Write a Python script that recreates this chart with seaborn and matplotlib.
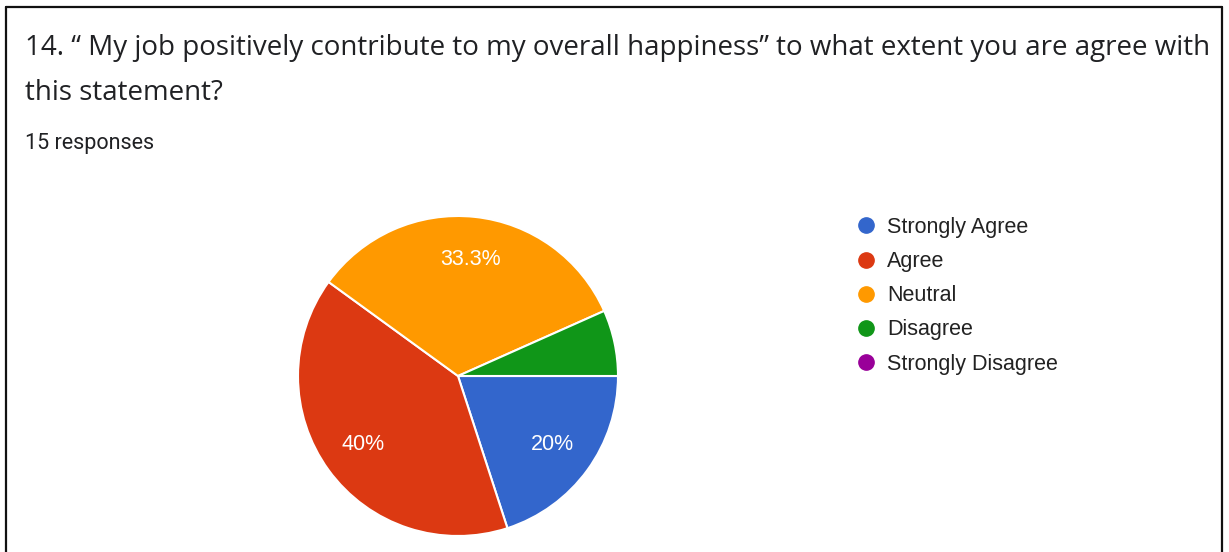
import matplotlib
matplotlib.use("Agg")
import matplotlib.pyplot as plt
from matplotlib.lines import Line2D
import seaborn as sns

# Survey responses (15 in total)
categories = ["Strongly Agree", "Agree", "Neutral", "Disagree", "Strongly Disagree"]
counts = [3, 6, 5, 1, 0]
colors = ["#3366cc", "#dc3912", "#ff9900", "#109618", "#990099"]

title_lines = [
    "14. \u201c My job positively contribute to my overall happiness\u201d to what extent you are agree with",
    "this statement?",
]
subtitle = "15 responses"

sns.set_theme(style="white")
palette = sns.color_palette(colors)

W, H = 1229, 552
fig = plt.figure(figsize=(W / 100, H / 100), dpi=100)
fig.patch.set_facecolor("white")


def fx(px):
    return px / W


def fy(py):
    return 1 - py / H


# outer frame (left, top, right edges)
frame_kw = dict(color="#111111", linewidth=1.6, transform=fig.transFigure)
fig.add_artist(Line2D([fx(6), fx(6)], [fy(7), 0], **frame_kw))
fig.add_artist(Line2D([fx(6), fx(1222)], [fy(7), fy(7)], **frame_kw))
fig.add_artist(Line2D([fx(1222), fx(1222)], [fy(7), 0], **frame_kw))

# heading
fig.text(fx(25), fy(55), title_lines[0], family="Open Sans", fontsize=20,
         color="#202124", va="baseline", ha="left")
fig.text(fx(25), fy(100), title_lines[1], family="Open Sans", fontsize=20,
         color="#202124", va="baseline", ha="left")
fig.text(fx(25), fy(149), subtitle, family="Roboto", fontsize=15.5,
         color="#202124", va="baseline", ha="left")

# pie
cx, cy, r = 458, 376, 160
ax = fig.add_axes([fx(cx - r), fy(cy + r), 2 * r / W, 2 * r / H])
pie_vals = [c for c in counts if c > 0]
pie_cols = [palette[i] for i, c in enumerate(counts) if c > 0]


def pct_label(p):
    return f"{p:.1f}%".replace(".0%", "%") if p >= 10 else ""


wedges, texts, autotexts = ax.pie(
    pie_vals, colors=pie_cols, startangle=0, counterclock=False,
    autopct=pct_label, pctdistance=0.73, radius=1,
    wedgeprops=dict(edgecolor="white", linewidth=1.5),
    textprops=dict(color="white", family="Liberation Sans", fontsize=15.5),
)
ax.set_xlim(-1, 1)
ax.set_ylim(-1, 1)
ax.set_aspect("equal")
ax.axis("off")

# legend
handles = [Line2D([], [], marker="o", linestyle="", markersize=11,
                  markerfacecolor=palette[i], markeredgecolor=palette[i])
           for i in range(len(categories))]
fig.legend(handles, categories, loc="upper left",
           bbox_to_anchor=(fx(855), fy(217)), frameon=False,
           prop=dict(family="Liberation Sans", size=15.5),
           labelspacing=0.61, handletextpad=0.49, handlelength=1.0,
           borderpad=0, borderaxespad=0, labelcolor="#222222")

fig.savefig("out.png", dpi=100, facecolor="white")
